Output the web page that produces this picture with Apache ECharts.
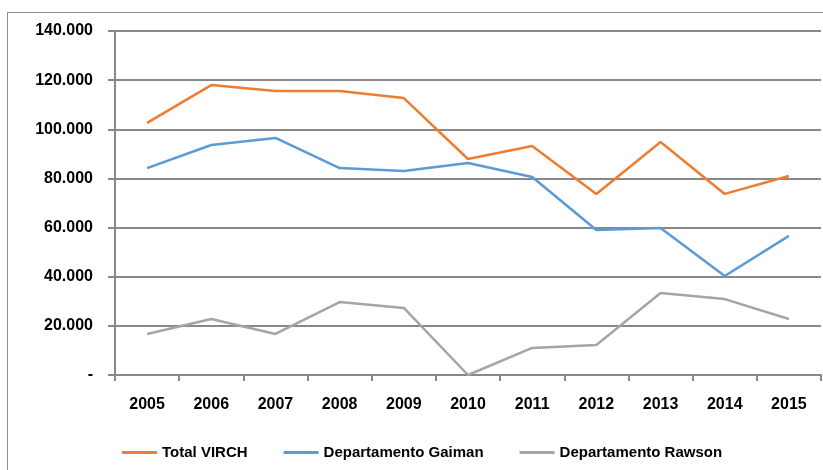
<!DOCTYPE html>
<html>
<head>
<meta charset="utf-8">
<script src="https://cdn.jsdelivr.net/npm/echarts@6/dist/echarts.min.js"></script>
<style>
  html, body { margin: 0; padding: 0; background: #fff; }
  #chart { width: 823px; height: 470px; }
</style>
</head>
<body>
<div id="chart"></div>
<script>
// datos
var years = ['2005', '2006', '2007', '2008', '2009', '2010', '2011', '2012', '2013', '2014', '2015'];
var totalVirch = [102600, 118000, 115600, 115600, 112700, 87900, 93200, 73700, 94800, 73700, 81000];
var gaiman = [84200, 93600, 96500, 84200, 83000, 86300, 80600, 59000, 59800, 40300, 56600];
var rawson = [16700, 22800, 16700, 29700, 27300, 0, 11000, 12200, 33400, 30900, 22800];

var fontFam = '"Liberation Sans", Arial, sans-serif';

var myChart = echarts.init(document.getElementById('chart'));

var option = {
    animation: false,
    textStyle: {fontFamily: fontFam},
    graphic: [{
        type: 'rect',
        shape: {x: 7.5, y: 12.5, width: 840, height: 480},
        style: {fill: 'none', stroke: '#8c8c8c', lineWidth: 1},
        silent: true
    }],
    grid: {left: 115, right: 2, top: 31, bottom: 95},
    legend: {
        left: 117,
        top: 440,
        icon: 'rect',
        itemWidth: 35,
        itemHeight: 3,
        itemGap: 36,
        textStyle: {fontFamily: fontFam, fontWeight: 'bold', fontSize: 15, color: '#000'},
        data: ['Total VIRCH', 'Departamento Gaiman', 'Departamento Rawson']
    },
    xAxis: {
        type: 'category',
        data: years,
        boundaryGap: true,
        axisLine: {lineStyle: {color: '#888', width: 2}},
        axisTick: {show: true, length: 6, lineStyle: {color: '#888', width: 2}},
        axisLabel: {margin: 22, fontFamily: fontFam, fontWeight: 'bold', fontSize: 16, color: '#000'}
    },
    yAxis: {
        type: 'value',
        min: 0,
        max: 140000,
        interval: 20000,
        axisLine: {show: true, lineStyle: {color: '#888', width: 2}},
        axisTick: {show: true, length: 7, lineStyle: {color: '#888', width: 2}},
        splitLine: {lineStyle: {color: '#888', width: 2}},
        axisLabel: {
            margin: 22,
            fontFamily: fontFam, fontWeight: 'bold', fontSize: 16, color: '#000',
            formatter: function (v) {
                if (v === 0) return '-';
                return (v / 1000) + '.000';
            }
        }
    },
    series: [{
        name: 'Total VIRCH',
        type: 'line',
        symbol: 'none',
        data: totalVirch,
        itemStyle: {color: '#ed7d31'},
        lineStyle: {color: '#ed7d31', width: 2.5}
    }, {
        name: 'Departamento Gaiman',
        type: 'line',
        symbol: 'none',
        data: gaiman,
        itemStyle: {color: '#5b9bd5'},
        lineStyle: {color: '#5b9bd5', width: 2.5}
    }, {
        name: 'Departamento Rawson',
        type: 'line',
        symbol: 'none',
        data: rawson,
        itemStyle: {color: '#a5a5a5'},
        lineStyle: {color: '#a5a5a5', width: 2.5}
    }]
};

myChart.setOption(option);
</script>
</body>
</html>
